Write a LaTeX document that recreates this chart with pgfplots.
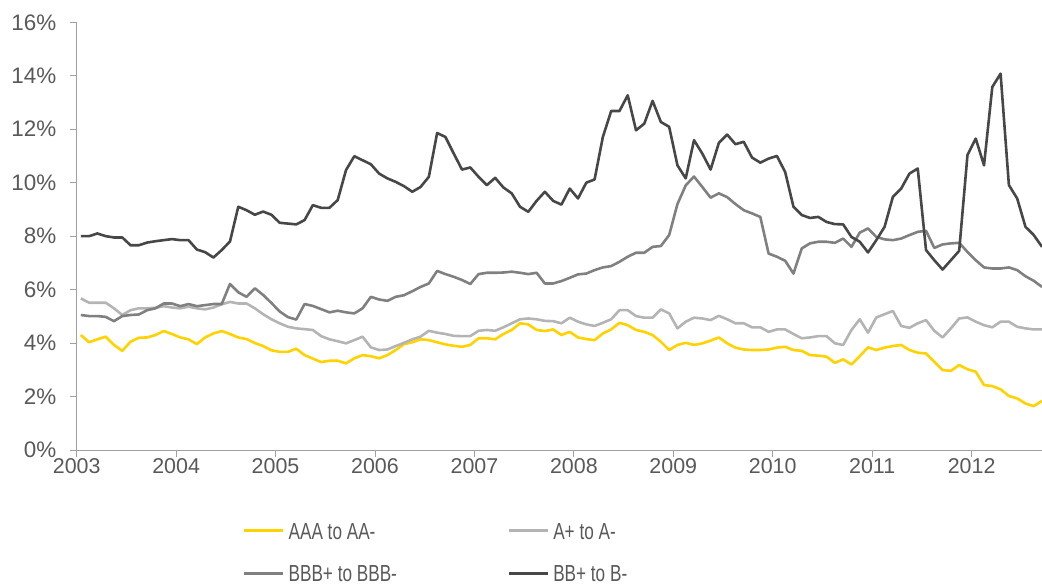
\documentclass[border=0pt]{standalone}
\usepackage{pgfplots}
\pgfplotsset{compat=1.18}
\usepackage{pgfplotstable}
\usepackage{fontspec}
\setmainfont{Liberation Sans}
\newfontfamily\narrowfont[FakeStretch=0.74]{Liberation Sans}
\definecolor{cAAA}{HTML}{FFD200}
\definecolor{cA}{HTML}{B4B4B4}
\definecolor{cBBB}{HTML}{808080}
\definecolor{cBB}{HTML}{474747}
\definecolor{axisgray}{HTML}{A0A0A0}
\definecolor{labelgray}{HTML}{595959}

\pgfplotstableread{
m aaa a bbb bb
0 4.30 5.67 5.05 8.00
1 4.03 5.51 5.01 8.00
2 4.14 5.51 5.01 8.10
3 4.24 5.51 4.98 8.00
4 3.93 5.30 4.82 7.95
5 3.71 5.05 5.01 7.95
6 4.05 5.23 5.05 7.66
7 4.20 5.30 5.07 7.66
8 4.21 5.30 5.23 7.76
9 4.30 5.32 5.30 7.81
10 4.45 5.38 5.48 7.85
11 4.34 5.33 5.48 7.89
12 4.21 5.30 5.38 7.85
13 4.14 5.36 5.46 7.85
14 3.96 5.30 5.38 7.50
15 4.21 5.26 5.42 7.40
16 4.36 5.33 5.46 7.20
17 4.45 5.45 5.46 7.48
18 4.34 5.54 6.21 7.80
19 4.21 5.48 5.90 9.10
20 4.15 5.48 5.73 8.97
21 4.00 5.30 6.05 8.80
22 3.89 5.08 5.80 8.92
23 3.73 4.89 5.50 8.80
24 3.67 4.74 5.18 8.50
25 3.67 4.61 4.97 8.47
26 3.79 4.55 4.88 8.44
27 3.55 4.52 5.46 8.60
28 3.42 4.49 5.39 9.16
29 3.29 4.26 5.27 9.06
30 3.34 4.14 5.15 9.06
31 3.34 4.07 5.21 9.35
32 3.24 3.99 5.15 10.47
33 3.43 4.11 5.11 10.99
34 3.55 4.24 5.30 10.84
35 3.51 3.84 5.73 10.69
36 3.43 3.74 5.63 10.34
37 3.55 3.76 5.58 10.16
38 3.74 3.89 5.73 10.03
39 3.96 4.01 5.79 9.87
40 4.03 4.14 5.94 9.66
41 4.14 4.24 6.10 9.84
42 4.11 4.46 6.23 10.22
43 4.03 4.39 6.70 11.86
44 3.95 4.34 6.58 11.71
45 3.90 4.27 6.48 11.09
46 3.86 4.26 6.36 10.49
47 3.93 4.26 6.21 10.57
48 4.18 4.46 6.58 10.22
49 4.18 4.49 6.63 9.91
50 4.14 4.46 6.63 10.18
51 4.34 4.59 6.64 9.82
52 4.49 4.74 6.67 9.60
53 4.74 4.89 6.63 9.10
54 4.70 4.92 6.58 8.91
55 4.49 4.89 6.63 9.32
56 4.45 4.83 6.23 9.66
57 4.51 4.82 6.23 9.32
58 4.30 4.74 6.32 9.18
59 4.42 4.95 6.44 9.78
60 4.21 4.80 6.57 9.41
61 4.15 4.70 6.60 10.00
62 4.11 4.64 6.73 10.12
63 4.36 4.76 6.83 11.71
64 4.51 4.89 6.88 12.68
65 4.76 5.23 7.04 12.68
66 4.67 5.23 7.23 13.27
67 4.49 5.01 7.38 11.96
68 4.42 4.95 7.38 12.21
69 4.30 4.95 7.60 13.06
70 4.05 5.26 7.63 12.27
71 3.74 5.11 8.04 12.09
72 3.93 4.55 9.20 10.65
73 4.01 4.80 9.90 10.16
74 3.93 4.95 10.23 11.59
75 3.99 4.92 9.84 11.09
76 4.09 4.86 9.44 10.49
77 4.21 5.02 9.60 11.49
78 3.99 4.89 9.46 11.80
79 3.83 4.74 9.20 11.44
80 3.76 4.74 8.97 11.53
81 3.74 4.59 8.85 10.94
82 3.74 4.59 8.72 10.75
83 3.76 4.42 7.35 10.90
84 3.83 4.51 7.23 11.00
85 3.86 4.51 7.08 10.40
86 3.74 4.34 6.60 9.10
87 3.71 4.18 7.54 8.79
88 3.55 4.21 7.73 8.68
89 3.53 4.26 7.79 8.72
90 3.49 4.26 7.79 8.53
91 3.26 3.99 7.75 8.45
92 3.39 3.93 7.91 8.44
93 3.20 4.49 7.60 7.97
94 3.51 4.89 8.13 7.79
95 3.84 4.39 8.29 7.39
96 3.74 4.96 7.97 7.85
97 3.83 5.08 7.88 8.35
98 3.89 5.20 7.85 9.47
99 3.93 4.64 7.91 9.78
100 3.74 4.57 8.04 10.34
101 3.64 4.74 8.16 10.53
102 3.61 4.86 8.20 7.48
103 3.30 4.46 7.56 7.10
104 2.99 4.21 7.69 6.75
105 2.96 4.55 7.73 7.10
106 3.18 4.92 7.75 7.45
107 3.02 4.96 7.41 11.03
108 2.93 4.80 7.10 11.65
109 2.43 4.67 6.83 10.65
110 2.39 4.59 6.79 13.58
111 2.27 4.80 6.79 14.08
112 2.02 4.80 6.83 9.91
113 1.93 4.61 6.73 9.41
114 1.74 4.55 6.50 8.35
115 1.64 4.51 6.33 8.04
116 1.84 4.51 6.10 7.60
}\ratings

\begin{document}
\begin{tikzpicture}
\begin{axis}[
  scale only axis,
  width=965.3bp, height=427.7bp,
  xmin=2003, xmax=2012.708,
  ymin=0, ymax=16,
  axis lines=left,
  axis line style={-, draw=axisgray, line width=1bp},
  tick align=outside,
  major tick length=7bp,
  tick style={draw=axisgray, line width=1bp},
  xtick={2003,2004,2005,2006,2007,2008,2009,2010,2011,2012},
  xticklabels={2003,2004,2005,2006,2007,2008,2009,2010,2011,2012},
  ytick={0,2,4,6,8,10,12,14,16},
  yticklabels={0\%,2\%,4\%,6\%,8\%,10\%,12\%,14\%,16\%},
  xticklabel style={font=\fontsize{21.5}{26}\selectfont, text=labelgray, yshift=1.5bp},
  yticklabel style={font=\fontsize{22.5}{27}\selectfont, text=labelgray, xshift=-10bp},
  legend style={
    at={(axis description cs:0,0)}, anchor=north west,
    xshift=166.3bp, yshift=-72.35bp,
    draw=none, fill=none, inner sep=0pt, outer sep=0pt,
    font=\narrowfont\fontsize{23.3}{28}\selectfont, text=labelgray,
    legend columns=2, row sep=25.9bp,
    nodes={inner sep=0pt, text height=16.7bp, text depth=0pt},
    /tikz/every odd column/.append style={column sep=4bp},
    /tikz/every even column/.append style={column sep=110.7bp},
  },
  legend cell align=left,
  legend image code/.code={\draw[#1] (0bp,0bp) -- (39bp,0bp);},
]
\addplot[cAAA, line width=2.6bp, line join=round] table[x expr={2003+(\thisrow{m}+0.5)/12}, y=aaa]{\ratings};
\addlegendentry{AAA to AA-}
\addplot[cA, line width=2.6bp, line join=round] table[x expr={2003+(\thisrow{m}+0.5)/12}, y=a]{\ratings};
\addlegendentry{A+ to A-}
\addplot[cBBB, line width=2.6bp, line join=round] table[x expr={2003+(\thisrow{m}+0.5)/12}, y=bbb]{\ratings};
\addlegendentry{BBB+ to BBB-}
\addplot[cBB, line width=2.6bp, line join=round] table[x expr={2003+(\thisrow{m}+0.5)/12}, y=bb]{\ratings};
\addlegendentry{BB+ to B-}
\end{axis}
\pgfresetboundingbox
\path[use as bounding box] ([xshift=-76.7bp, yshift=-138bp]current axis.south west) rectangle ([yshift=22.3bp]current axis.north east);
\end{tikzpicture}
\end{document}
